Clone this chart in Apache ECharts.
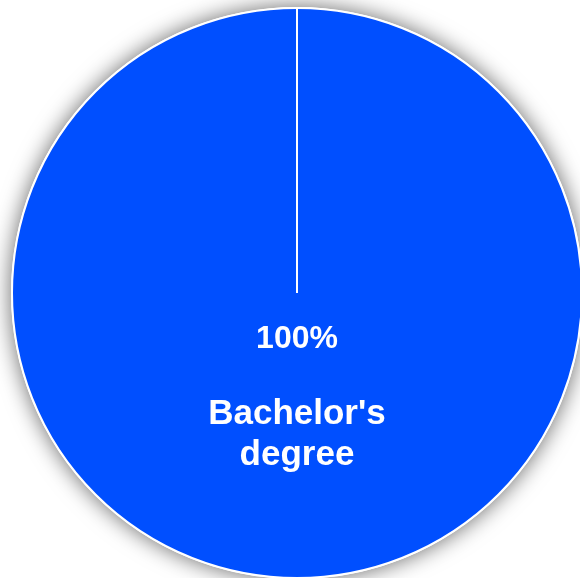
<!DOCTYPE html>
<html>
<head>
<meta charset="utf-8">
<script src="https://cdn.jsdelivr.net/npm/echarts@6/dist/echarts.min.js"></script>
<style>
  html, body { margin: 0; padding: 0; background: #fff; }
  #chart { width: 580px; height: 578px; }
</style>
</head>
<body>
<div id="chart"></div>
<script>
const categories = ["Bachelor's degree"];
const values = [100];
const labelLines = [["Bachelor's", "degree"]];

const pieCenter = [297, 293];
const pieRadius = 285;

const chart = echarts.init(document.getElementById('chart'));

const pieData = categories.map((name, i) => ({
    name: name,
    value: values[i],
    label: {
        formatter: '{p|{d}%}\n{s| }\n' + labelLines[i].map(t => '{n|' + t + '}').join('\n')
    }
}));

chart.setOption({
    animation: false,
    series: [
        // shadow layer underneath, so the shadow only shows outside the disc
        {
            type: 'pie',
            z: 1,
            silent: true,
            center: pieCenter,
            radius: pieRadius + 1,
            startAngle: 90,
            data: categories.map((name, i) => ({name: name, value: values[i]})),
            itemStyle: {
                color: '#ffffff',
                shadowBlur: 22,
                shadowColor: 'rgba(0,0,0,0.6)'
            },
            label: {show: false},
            labelLine: {show: false}
        },
        {
            type: 'pie',
            z: 2,
            center: pieCenter,
            radius: pieRadius,
            startAngle: 90,
            clockwise: true,
            data: pieData,
            itemStyle: {
                color: '#004FFF',
                borderColor: '#ffffff',
                borderWidth: 2
            },
            label: {
                show: true,
                position: 'inside',
                offset: [0, -40],
                color: '#ffffff',
                fontFamily: 'Liberation Sans, Arial, sans-serif',
                fontWeight: 'bold',
                rich: {
                    p: { fontSize: 32, fontWeight: 'bold', color: '#fff', fontFamily: 'Liberation Sans', lineHeight: 36 },
                    s: { fontSize: 10, lineHeight: 36 },
                    n: { fontSize: 35, fontWeight: 'bold', color: '#fff', fontFamily: 'Liberation Sans', lineHeight: 41 }
                }
            },
            labelLine: { show: false }
        }
    ],
    // radial edge of the single full slice, drawn from the pie's own center and radius
    graphic: [{
        type: 'line',
        z: 100,
        shape: {
            x1: pieCenter[0], y1: pieCenter[1],
            x2: pieCenter[0], y2: pieCenter[1] - pieRadius
        },
        style: { stroke: '#ffffff', lineWidth: 2 }
    }]
});
</script>
</body>
</html>
